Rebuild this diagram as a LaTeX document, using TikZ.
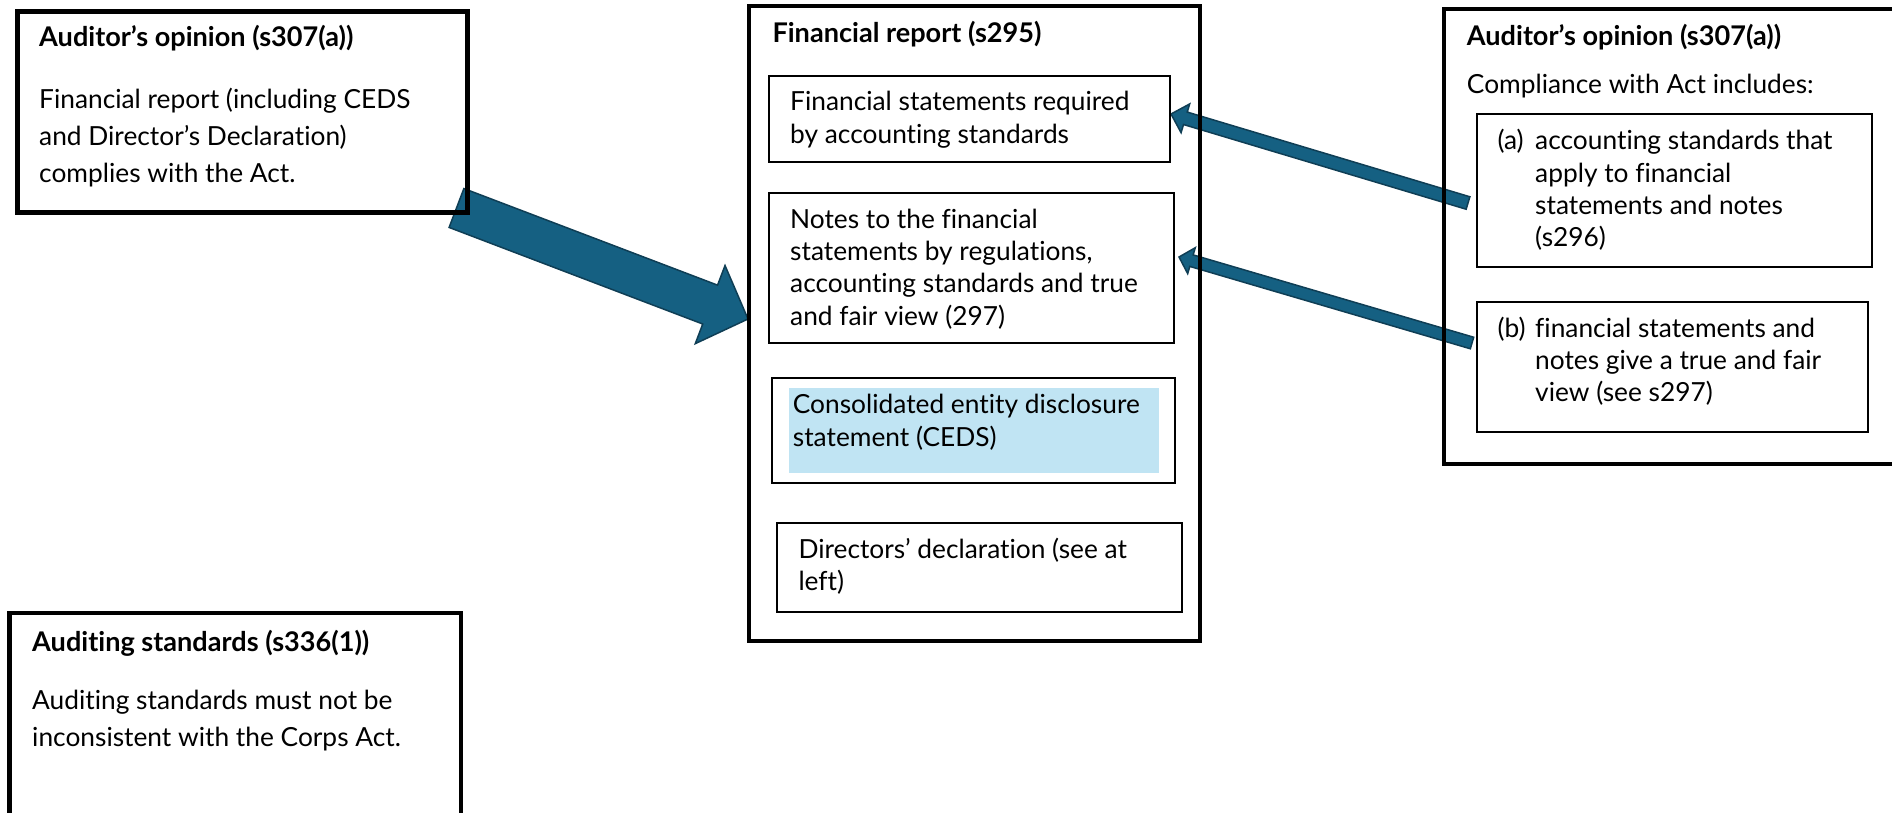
\documentclass[tikz,border=0pt]{standalone}
\usepackage{fontspec}
\setmainfont{Lato}[RawFeature={-liga;-clig;-calt;-dlig}]
\usetikzlibrary{calc,backgrounds}
\definecolor{arrowblue}{HTML}{156082}
\definecolor{arrowedge}{HTML}{0F3E55}
\definecolor{cedsblue}{HTML}{C0E4F3}

% block arrow: #1 tail, #2 tip, #3 half shaft width, #4 half head width, #5 head length
\newcommand\blockarrow[5]{%
  \coordinate (ba-h) at ($(#2)!#5!(#1)$);
  \filldraw[arrowshape]
    ($(#1)!#3!90:(#2)$) -- ($(ba-h)!#3!90:(ba-h-tip)$) -- ($(ba-h)!#4!90:(ba-h-tip)$)
    -- (#2) -- ($(ba-h)!#4!-90:(ba-h-tip)$) -- ($(ba-h)!#3!-90:(ba-h-tip)$)
    -- ($(#1)!#3!-90:(#2)$) -- cycle;}

\begin{document}
\begin{tikzpicture}[x=1pt,y=-1pt,
  thickbox/.style={draw=black, line width=4.5pt, inner sep=0pt, outer sep=0pt, anchor=north west},
  thinbox/.style={draw=black, line width=1.7pt, inner sep=0pt, outer sep=0pt, anchor=north west},
  arrowshape/.style={fill=arrowblue, draw=arrowedge, line width=1.5pt, line join=miter},
  % multi-line text nodes are placed by the baseline of their last line
  ttl/.style={anchor=base west, inner sep=0pt, font=\fontsize{27.1}{32}\selectfont\bfseries},
  body/.style={anchor=base west, inner sep=0pt, align=left, font=\fontsize{26.3}{37.2}\selectfont},
  inner/.style={anchor=base west, inner sep=0pt, align=left, font=\fontsize{26.3}{32.3}\selectfont}]
\clip (0,0) rectangle (1892,813);

% left column
\node[thickbox, minimum width=450, minimum height=200.8] (opL) at (17.5,11.7) {};
\node[ttl] (opLt) at (39,46.7) {Auditor’s opinion (s307(a))};
\node[body] (opLb) at (39,182.7) {Financial report (including CEDS\\and Director’s Declaration)\\complies with the Act.};

\node[thickbox, minimum width=451.5, minimum height=230] (stdL) at (9.5,613) {};
\node[ttl] (stdLt) at (32,651.7) {Auditing standards (s336(1))};
\node[body] (stdLb) at (32,746.7) {Auditing standards must not be\\inconsistent with the Corps Act.};

% financial report
\node[thickbox, minimum width=451, minimum height=635] (frpt) at (749,6) {};
\node[ttl] (frptt) at (772.3,42.7) {Financial report (s295)};

\node[thinbox, minimum width=401, minimum height=86.3] (fs) at (769,76) {};
\node[inner] (fst) at (790,143.3) {Financial statements required\\by accounting standards};

\node[thinbox, minimum width=405.3, minimum height=150.6] (notes) at (769,192.7) {};
\node[inner] (notest) at (790,325) {Notes to the financial\\statements by regulations,\\accounting standards and true\\and fair view (297)};

\node[fill=cedsblue, inner sep=0pt, anchor=north west, minimum width=370, minimum height=85] (cedsfill) at (789,388) {};
\node[thinbox, minimum width=403.3, minimum height=105] (ceds) at (771.7,378.3) {};
\node[inner] (cedst) at (792.7,446) {Consolidated entity disclosure\\statement (CEDS)};

\node[thinbox, minimum width=405, minimum height=88.4] (dd) at (776.7,523.3) {};
\node[inner] (ddt) at (798.3,590.7) {Directors’ declaration (see at\\left)};

% right column
\node[thickbox, minimum width=470, minimum height=455] (opR) at (1444,9) {};
\node[ttl] (opRt) at (1466.7,45.7) {Auditor’s opinion (s307(a))};
\node[body] (opRb) at (1466.7,94) {Compliance with Act includes:};

\node[thinbox, minimum width=395, minimum height=152.4] (abox) at (1476.7,114.3) {};
\node[inner] (al) at (1497.3,149.3) {(a)};
\node[inner] (at) at (1535,246.7) {accounting standards that\\apply to financial\\statements and notes\\(s296)};

\node[thinbox, minimum width=391.6, minimum height=129.4] (bbox) at (1476.7,302.3) {};
\node[inner] (bl) at (1497.3,337.3) {(b)};
\node[inner] (bt) at (1535,401.7) {financial statements and\\notes give a true and fair\\view (see s297)};

% block arrows behind the boxes
\begin{scope}[on background layer]
  \coordinate (big-s) at (456.5,208);
  \coordinate (big-e) at (748,319);
  \coordinate (ba-h-tip) at (big-e);
  \blockarrow{big-s}{big-e}{20.8pt}{41.8pt}{40.5pt}
  \coordinate (sa-s) at (1468,203);
  \coordinate (sa-e) at (1171,114);
  \coordinate (ba-h-tip) at (sa-e);
  \blockarrow{sa-s}{sa-e}{6.5pt}{15pt}{15pt}
  \coordinate (sb-s) at (1472,343);
  \coordinate (sb-e) at (1179,257);
  \coordinate (ba-h-tip) at (sb-e);
  \blockarrow{sb-s}{sb-e}{6pt}{13.5pt}{13pt}
\end{scope}
\end{tikzpicture}
\end{document}
